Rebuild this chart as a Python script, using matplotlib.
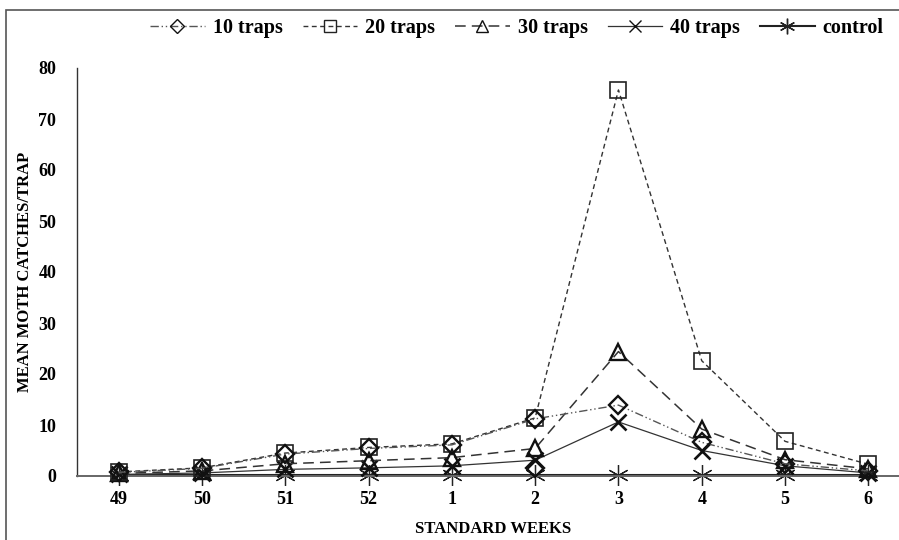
import matplotlib
matplotlib.use("Agg")
import matplotlib.pyplot as plt
from matplotlib.patches import Rectangle

weeks = ['49', '50', '51', '52', '1', '2', '3', '4', '5', '6']
traps10 = [0.7, 1.5, 4.3, 5.4, 6.1, 11.2, 13.9, 6.6, 2.4, 1.0]
traps20 = [0.8, 1.6, 4.5, 5.6, 6.3, 11.4, 75.7, 22.6, 6.8, 2.3]
traps30 = [0.5, 1.0, 2.4, 3.0, 3.6, 5.4, 24.4, 9.2, 3.2, 1.4]
traps40 = [0.3, 0.6, 1.3, 1.6, 2.0, 3.1, 10.6, 5.0, 2.0, 0.6]
control = [0.1, 0.1, 0.1, 0.1, 0.1, 0.1, 0.1, 0.1, 0.1, 0.1]
stray_week = ['2']
stray_value = [1.5]
yticks = [0, 10, 20, 30, 40, 50, 60, 70, 80]

plt.rcParams['font.family'] = ['Liberation Serif', 'DejaVu Serif']
plt.rcParams['font.weight'] = 'bold'

fig = plt.figure(figsize=(8.99, 5.40), dpi=100)
ax = fig.add_axes([77/899, 64/540, 833/899, 408/540])

x = list(range(len(weeks)))
pos = {w: i for i, w in enumerate(weeks)}

ax.plot(x, control, color='#222222', lw=1.5, ls='-', marker=(6, 2, 0), ms=15,
        mec='#222222', mew=0.9, label='control', zorder=2, clip_on=False)
ax.plot(x, traps40, color='#333333', lw=0.9, ls='-', marker='x', ms=11,
        mec='#111111', mew=1.9, label='40 traps', zorder=3, clip_on=False)
ax.plot(x, traps30, color='#333333', lw=1.1, ls=(0, (7, 4)), marker='^', ms=12,
        mfc='none', mec='#111111', mew=1.7, label='30 traps', zorder=4, clip_on=False)
ax.plot(x, traps20, color='#333333', lw=1.0, ls=(0, (3.5, 2.5)), marker='s', ms=11,
        mfc='none', mec='#222222', mew=1.2, label='20 traps', zorder=5, clip_on=False)
ax.plot(x, traps10, color='#555555', lw=1.0, ls=(0, (6, 2, 1, 2, 1, 2)), marker='D', ms=9,
        mfc='none', mec='#111111', mew=1.7, label='10 traps', zorder=6, clip_on=False)
ax.plot([pos[w] for w in stray_week], stray_value, ls='none', marker='D', ms=9,
        mfc='none', mec='#111111', mew=1.7, zorder=6, clip_on=False)

ax.set_xlim(-0.5, len(weeks) - 0.5)
ax.set_ylim(0, 80)
ax.set_yticks(yticks)
ax.set_yticklabels([str(t) for t in yticks], fontsize=13, fontweight='bold')
ax.set_xticks(x)
ax.set_xticklabels(weeks, fontsize=13, fontweight='bold')
ax.tick_params(axis='both', length=0)
ax.tick_params(axis='y', pad=15)
ax.tick_params(axis='x', pad=11)
for s in ['top', 'right']:
    ax.spines[s].set_visible(False)
ax.spines['left'].set_color('#333333')
ax.spines['left'].set_linewidth(1.0)
ax.spines['bottom'].set_color('#666666')
ax.spines['bottom'].set_linewidth(1.4)

ax.set_ylabel('MEAN MOTH CATCHES/TRAP', fontsize=12, fontweight='bold', labelpad=4)
ax.set_xlabel('STANDARD WEEKS', fontsize=12, fontweight='bold', labelpad=9)

handles, labels = ax.get_legend_handles_labels()
order = ['10 traps', '20 traps', '30 traps', '40 traps', 'control']
hd = dict(zip(labels, handles))
leg = fig.legend([hd[k] for k in order], order, loc='center', ncol=5,
                 bbox_to_anchor=(517/899, 1 - 28/540), frameon=False,
                 prop={'family': 'Liberation Serif', 'weight': 'bold', 'size': 14.5},
                 handlelength=2.7, columnspacing=1.0, handletextpad=0.4, markerscale=0.75)
for h in leg.legend_handles:
    h.set_markeredgewidth(1.0)

fig.patches.append(Rectangle((6/899, -0.1), 1.2, 1 - 10/540 + 0.1, transform=fig.transFigure,
                             fill=False, edgecolor='#555555', lw=1.2))

fig.savefig('out.png', dpi=100)
